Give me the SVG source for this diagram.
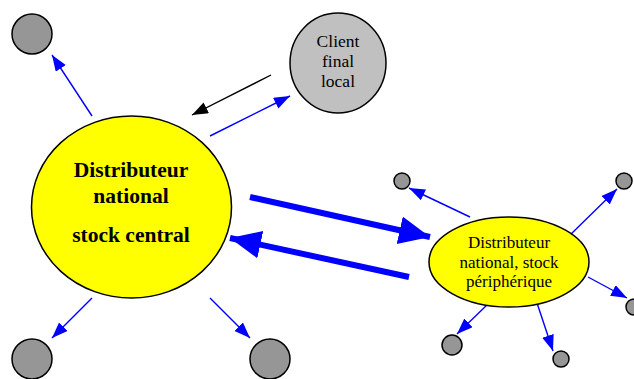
<svg xmlns="http://www.w3.org/2000/svg" width="634" height="379" viewBox="0 0 634 379">
<style>
.leaf{fill:#969696;stroke:#000;stroke-width:1.5}
.thin{stroke:#0000FF;stroke-width:1.4;fill:none}
.thick{stroke:#0000FF;stroke-width:6;fill:none}
.blk{stroke:#000;stroke-width:1.4;fill:none}
.t{font-family:"Liberation Serif","Times New Roman",serif;text-anchor:middle;fill:#000}
</style>
<defs>
<marker id="ab" markerUnits="userSpaceOnUse" markerWidth="17" markerHeight="13" refX="16" refY="6" orient="auto"><path d="M0,0 L16,6 L0,12 z" fill="#0000FF"/></marker>
<marker id="ak" markerUnits="userSpaceOnUse" markerWidth="17" markerHeight="13" refX="16" refY="6" orient="auto"><path d="M0,0 L16,6 L0,12 z" fill="#000"/></marker>
<marker id="aT" markerUnits="userSpaceOnUse" markerWidth="32" markerHeight="30" refX="31" refY="14" orient="auto"><path d="M0,0 L31,14 L0,28 z" fill="#0000FF"/></marker>
</defs>
<g id="connectors">
<line class="thin" x1="92" y1="116" x2="52" y2="55" marker-end="url(#ab)"/>
<line class="blk" x1="271" y1="75" x2="192" y2="115" marker-end="url(#ak)"/>
<line class="thin" x1="210" y1="136" x2="290" y2="96" marker-end="url(#ab)"/>
<line class="thin" x1="92" y1="298" x2="52" y2="338" marker-end="url(#ab)"/>
<line class="thin" x1="210" y1="298" x2="250" y2="338" marker-end="url(#ab)"/>
<line class="thick" x1="250" y1="197" x2="430" y2="237" marker-end="url(#aT)"/>
<line class="thick" x1="409" y1="277" x2="230" y2="238" marker-end="url(#aT)"/>
<line class="thin" x1="470" y1="217" x2="409" y2="188" marker-end="url(#ab)"/>
<line class="thin" x1="568" y1="237" x2="617" y2="189" marker-end="url(#ab)"/>
<line class="thin" x1="588" y1="277" x2="627" y2="298" marker-end="url(#ab)"/>
<line class="thin" x1="489" y1="303" x2="457" y2="334" marker-end="url(#ab)"/>
<line class="thin" x1="537" y1="303" x2="553" y2="351" marker-end="url(#ab)"/>
</g>
<g id="central">
<ellipse cx="131.5" cy="207" rx="100" ry="91" fill="#FFFF00" stroke="#000" stroke-width="1.5"/>
<text class="t" x="131" y="177" font-size="21.5" font-weight="bold">Distributeur</text>
<text class="t" x="131" y="203" font-size="21.5" font-weight="bold">national</text>
<text class="t" x="131" y="242" font-size="21.5" font-weight="bold">stock central</text>
</g>
<g id="client">
<ellipse cx="338" cy="63" rx="48" ry="50" fill="#C0C0C0" stroke="#000" stroke-width="1.5"/>
<text class="t" x="338" y="47" font-size="17.5">Client</text>
<text class="t" x="338" y="67" font-size="17.5">final</text>
<text class="t" x="338" y="87" font-size="17.5">local</text>
</g>
<g id="peripheral">
<ellipse cx="509" cy="262" rx="80" ry="45" fill="#FFFF00" stroke="#000" stroke-width="1.5"/>
<text class="t" x="509" y="248" font-size="17">Distributeur</text>
<text class="t" x="509" y="268" font-size="17">national, stock</text>
<text class="t" x="509" y="287" font-size="17">périphérique</text>
</g>
<g id="leaf-tl"><circle class="leaf" cx="32" cy="34" r="20"/></g>
<g id="leaf-bl"><circle class="leaf" cx="32" cy="359" r="20"/></g>
<g id="leaf-br"><circle class="leaf" cx="270" cy="359" r="20"/></g>
<g id="leaf-p1"><circle class="leaf" cx="402" cy="181" r="8"/></g>
<g id="leaf-p2"><circle class="leaf" cx="624" cy="181" r="8"/></g>
<g id="leaf-p3"><circle class="leaf" cx="634" cy="307" r="8"/></g>
<g id="leaf-p4"><circle class="leaf" cx="452" cy="345" r="10"/></g>
<g id="leaf-p5"><circle class="leaf" cx="561" cy="359" r="8"/></g>
</svg>
